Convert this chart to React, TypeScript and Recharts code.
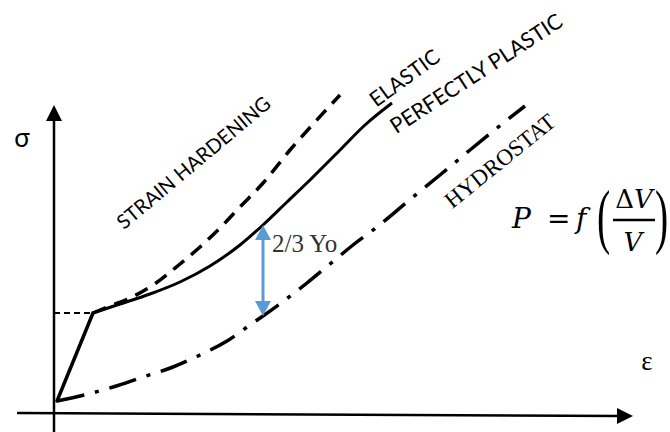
import React from 'react';
import { LineChart, Line, XAxis, YAxis, ReferenceLine } from 'recharts';

// strain (eps) / stress (sig) samples, arbitrary units
const elasticEps = [0.04, 0.76];
const elasticSig = [0.24, 2.0];

const plasticEps = [0.76, 1.3, 1.9, 2.5, 3.1, 3.7, 4.16, 4.64, 5.1, 5.7, 6.2, 6.74];
const plasticSig = [2.0, 2.18, 2.38, 2.62, 2.94, 3.36, 3.76, 4.22, 4.66, 5.26, 5.76, 6.2];

const hardeningEps = [0.76, 1.1, 1.5, 2.02, 2.5, 2.9, 3.3, 3.7, 4.18, 4.7, 5.2, 5.7];
const hardeningSig = [2.0, 2.14, 2.3, 2.6, 2.98, 3.32, 3.7, 4.12, 4.62, 5.26, 5.82, 6.36];

const hydrostatEps = [0.04, 0.5, 1.16, 1.7, 2.36, 2.9, 3.44, 3.9, 4.16, 4.52, 5.04, 5.5, 5.96, 6.44, 7.16, 7.7, 8.3, 8.84, 9.4];
const hydrostatSig = [0.24, 0.34, 0.52, 0.7, 0.92, 1.16, 1.44, 1.76, 1.94, 2.2, 2.6, 2.98, 3.36, 3.72, 4.32, 4.76, 5.26, 5.7, 6.14];

// where the 2/3 Yo gap is marked
const gapEps = 4.16;

const zip = (e: number[], s: number[]) => e.map((v, i) => ({ eps: v, sig: s[i] }));

const sigAt = (e: number[], s: number[], x: number) => s[e.indexOf(x)];

const W = 670;
const H = 432;

type SegProps = { x1?: number; y1?: number; x2?: number; y2?: number };

// straight line with a filled arrow head at the end (and optionally the start)
const arrowLine = (color: string, width: number, head: number, half: number, both = false) =>
  (p: SegProps) => {
    const x1 = p.x1 ?? 0, y1 = p.y1 ?? 0, x2 = p.x2 ?? 0, y2 = p.y2 ?? 0;
    const len = Math.hypot(x2 - x1, y2 - y1) || 1;
    const ux = (x2 - x1) / len, uy = (y2 - y1) / len;
    const tri = (tx: number, ty: number, dx: number, dy: number) => {
      const bx = tx - dx * head, by = ty - dy * head;
      return `${tx},${ty} ${bx - dy * half},${by + dx * half} ${bx + dy * half},${by - dx * half}`;
    };
    const sx = both ? x1 + ux * head * 0.8 : x1;
    const sy = both ? y1 + uy * head * 0.8 : y1;
    return (
      <g>
        <line x1={sx} y1={sy} x2={x2 - ux * head * 0.8} y2={y2 - uy * head * 0.8} stroke={color} strokeWidth={width} />
        <polygon points={tri(x2, y2, ux, uy)} fill={color} />
        {both && <polygon points={tri(x1, y1, -ux, -uy)} fill={color} />}
      </g>
    );
  };

const sans = 'Lato, "Open Sans", sans-serif';
const serif = '"Liberation Serif", "DejaVu Serif", serif';

const tilted = (label: string, cx: number, cy: number, angle: number, size: number, font: string, spacing = 0) => (
  <text
    key={label}
    x={cx}
    y={cy}
    textAnchor="middle"
    dominantBaseline="central"
    fontFamily={font}
    fontSize={size}
    letterSpacing={spacing}
    fill="#000"
    transform={`rotate(${angle} ${cx} ${cy})`}
  >
    {label}
  </text>
);

export default function App() {
  const top = sigAt(plasticEps, plasticSig, gapEps);
  const bottom = sigAt(hydrostatEps, hydrostatSig, gapEps);
  const yieldSig = elasticSig[1];
  const yieldEps = elasticEps[1];

  return (
    <div style={{ position: 'absolute', left: 0, top: 0, width: W, height: H, background: '#fff' }}>
      <LineChart width={W} height={H} margin={{ top: 0, right: 0, bottom: 0, left: 0 }}>
        <XAxis type="number" dataKey="eps" domain={[-1.1, 12.3]} hide allowDataOverflow />
        <YAxis type="number" dataKey="sig" domain={[-0.38, 8.26]} hide allowDataOverflow />

        {/* axes */}
        <ReferenceLine
          segment={[{ x: -0.76, y: 0 }, { x: 11.56, y: -0.06 }]}
          ifOverflow="visible"
          shape={arrowLine('#000', 2.5, 16, 8)}
        />
        <ReferenceLine
          segment={[{ x: -0.02, y: -0.5 }, { x: -0.02, y: 6.16 }]}
          ifOverflow="visible"
          shape={arrowLine('#000', 2.5, 16, 8)}
        />

        {/* yield level */}
        <ReferenceLine
          segment={[{ x: -0.02, y: yieldSig }, { x: yieldEps, y: yieldSig }]}
          ifOverflow="visible"
          stroke="#000"
          strokeWidth={2}
          strokeDasharray="6 4"
        />

        {/* elastic loading up to yield */}
        <ReferenceLine
          segment={zip(elasticEps, elasticSig).map((d) => ({ x: d.eps, y: d.sig }))}
          ifOverflow="visible"
          stroke="#000"
          strokeWidth={3.5}
          strokeLinecap="round"
        />

        <Line data={zip(hydrostatEps, hydrostatSig)} dataKey="sig" type="monotone" stroke="#000" strokeWidth={3.5} strokeDasharray="28 11 4 11" dot={false} activeDot={false} isAnimationActive={false} />
        <Line data={zip(hardeningEps, hardeningSig)} dataKey="sig" type="monotone" stroke="#000" strokeWidth={3.5} strokeDasharray="14 9" dot={false} activeDot={false} isAnimationActive={false} />
        <Line data={zip(plasticEps, plasticSig)} dataKey="sig" type="monotone" stroke="#000" strokeWidth={3} dot={false} activeDot={false} isAnimationActive={false} />

        {/* 2/3 Yo gap between the curves */}
        <ReferenceLine
          segment={[{ x: gapEps, y: bottom }, { x: gapEps, y: top }]}
          ifOverflow="visible"
          shape={arrowLine('#5B9BD5', 3, 15, 8, true)}
        />

        {/* curve labels */}
        {tilted('STRAIN HARDENING', 193, 162, -40, 20, sans)}
        {tilted('ELASTIC', 404, 77, -36, 21, sans)}
        {tilted('PERFECTLY PLASTIC', 476, 73, -33, 21.5, sans)}
        {tilted('HYDROSTAT', 500, 161, -39, 23, serif)}

        <text x={272} y={252} fontFamily={serif} fontSize={25} fill="#333">2/3 Yo</text>

        <text x={22} y={137} textAnchor="middle" dominantBaseline="central" fontFamily={sans} fontSize={26} fill="#000">σ</text>
        <text x={647} y={361} textAnchor="middle" dominantBaseline="central" fontFamily={serif} fontSize={27} fill="#000">ε</text>

        {/* P = f(ΔV/V) */}
        <g fontFamily='"DejaVu Serif", serif' fill="#000">
          <text x={512} y={228} fontSize={28} fontStyle="italic">P</text>
          <text x={547} y={228} fontSize={28}>=</text>
          <text x={576} y={228} fontSize={28} fontStyle="italic">f</text>
          <text transform="translate(597,240) scale(0.55,1)" fontFamily={serif} fontSize={72}>(</text>
          <text x={634} y={208} fontSize={26} textAnchor="middle">
            Δ<tspan fontStyle="italic">V</tspan>
          </text>
          <line x1={613} y1={220} x2={655} y2={220} stroke="#000" strokeWidth={2.5} />
          <text x={633} y={251} fontSize={26} textAnchor="middle" fontStyle="italic">V</text>
          <text transform="translate(655,240) scale(0.55,1)" fontFamily={serif} fontSize={72}>)</text>
        </g>
      </LineChart>
    </div>
  );
}
